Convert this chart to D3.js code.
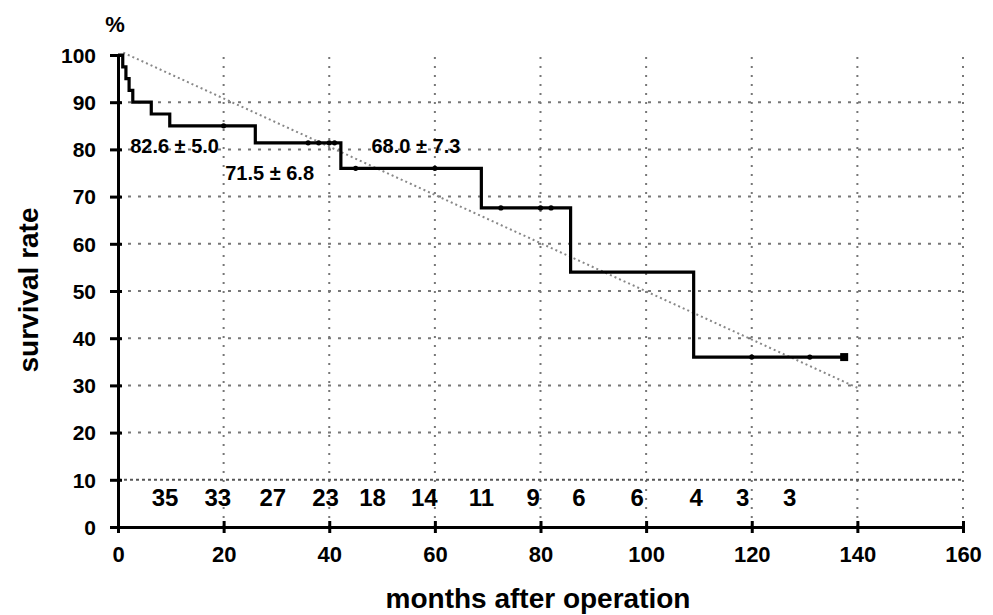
<!DOCTYPE html>
<html><head><meta charset="utf-8">
<script src="https://cdn.jsdelivr.net/npm/d3@7"></script>
<style>body{margin:0;background:#fff}svg{display:block}</style>
</head><body>
<svg id="c" width="993" height="615"></svg>
<script>
// Kaplan-Meier step data (months, survival %)
const stepTimes  = [0, 0.9, 1.5, 2.1, 2.8, 6.3, 9.8, 26, 42.2, 68.8, 85.7, 109, 137.5];
const stepValues = [100, 97.5, 95, 92.5, 90, 87.5, 85, 81.4, 76, 67.6, 54, 36, 36];
const censorTimes = [20, 36, 38, 40, 41, 45, 60, 72.5, 80, 82, 120, 131];
// dotted linear trend
const trendX = [1, 140];
const trendY = [100.5, 29.5];
// numbers at risk
const riskLabels = ["35","33","27","23","18","14","11","9","6","6","4","3","3"];
const riskMonths = [8.9, 18.9, 29.3, 39.3, 48.2, 58.0, 68.8, 78.6, 87.3, 98.3, 109.5, 118.3, 127.2];
// annotations
const annTexts  = ["82.6 ± 5.0", "71.5 ± 6.8", "68.0 ± 7.3"];
const annMonths = [2.3, 20.3, 48.0];
const annValues = [79.3, 73.6, 79.3];
// axis ticks
const xTicks = [0,20,40,60,80,100,120,140,160];
const yTicks = [0,10,20,30,40,50,60,70,80,90,100];

const svg = d3.select("#c");
const x = d3.scaleLinear().domain([0,160]).range([118,963]);
const y = d3.scaleLinear().domain([0,100]).range([527,55]);
const font = "'Liberation Sans', Arial, sans-serif";

// grid
const g = svg.append("g");
g.selectAll("line.v").data(xTicks.slice(1)).join("line")
  .attr("x1", d=>x(d)).attr("x2", d=>x(d)).attr("y1", y(0)).attr("y2", y(100))
  .attr("stroke","#777").attr("stroke-width",2).attr("stroke-dasharray","2,7");
g.selectAll("line.h").data(yTicks.filter(d=>d>0 && d<100)).join("line")
  .attr("x1", x(0)).attr("x2", x(160)).attr("y1", d=>y(d)).attr("y2", d=>y(d))
  .attr("stroke", d=> d===10 ? "#555" : "#777")
  .attr("stroke-width",2)
  .attr("stroke-dasharray", d=> d===10 ? "3,3" : "3,7");

// trend line
svg.append("line")
  .attr("x1", x(trendX[0])).attr("y1", y(trendY[0]))
  .attr("x2", x(trendX[1])).attr("y2", y(trendY[1]))
  .attr("stroke","#888").attr("stroke-width",2).attr("stroke-dasharray","2,3");

// axes
const xAxis = d3.axisBottom(x).tickValues(xTicks).tickSize(6).tickFormat(d3.format("d"));
const yAxis = d3.axisLeft(y).tickValues(yTicks).tickSize(8).tickFormat(d3.format("d"));
const ax = svg.append("g").attr("transform",`translate(0,${y(0)})`).call(xAxis);
const ay = svg.append("g").attr("transform",`translate(${x(0)},0)`).call(yAxis);
[ax, ay].forEach(a=>{
  a.select(".domain").attr("stroke","#000").attr("stroke-width",3);
  a.selectAll(".tick line").attr("stroke","#000").attr("stroke-width",3);
  a.selectAll("text").attr("font-family",font).attr("font-weight","bold").attr("fill","#000");
});
ax.selectAll(".tick line").attr("y1",-6);
ax.selectAll("text").attr("font-size",22).attr("dy",0).attr("y",35);
ay.selectAll(".tick line").attr("x2",-8).attr("x1",4);
ay.selectAll("text").attr("font-size",21).attr("x",-22).attr("dy","0.35em");

// KM step line
const pts = stepTimes.map((t,i)=>[t, stepValues[i]]);
const line = d3.line().x(d=>x(d[0])).y(d=>y(d[1])).curve(d3.curveStepAfter);
svg.append("path").datum(pts).attr("d", line)
  .attr("fill","none").attr("stroke","#000").attr("stroke-width",3.2).attr("stroke-linejoin","miter");
// censor marks
function survAt(t){ let v=100; stepTimes.forEach((s,i)=>{ if(t>=s) v=stepValues[i]; }); return v; }
svg.selectAll("circle.cen").data(censorTimes).join("circle")
  .attr("cx", d=>x(d)).attr("cy", d=>y(survAt(d))).attr("r",2.6).attr("fill","#000");
// end square
const last = stepTimes.length-1;
svg.append("rect").attr("x", x(stepTimes[last])-4).attr("y", y(stepValues[last])-4)
  .attr("width",8).attr("height",8).attr("fill","#000");

// annotations
svg.selectAll("text.ann").data(annTexts).join("text")
  .attr("x",(d,i)=>x(annMonths[i])).attr("y",(d,i)=>y(annValues[i]))
  .attr("font-family",font).attr("font-weight","bold").attr("font-size",20).text(d=>d);

// numbers at risk
svg.selectAll("text.risk").data(riskLabels).join("text")
  .attr("x",(d,i)=>x(riskMonths[i])).attr("y",506).attr("text-anchor","middle")
  .attr("font-family",font).attr("font-weight","bold").attr("font-size",24).text(d=>d);

// labels
svg.append("text").attr("x",115).attr("y",32).attr("text-anchor","middle")
  .attr("font-family",font).attr("font-weight","bold").attr("font-size",22).text("%");
svg.append("text").attr("transform","translate(38,290) rotate(-90)").attr("text-anchor","middle")
  .attr("font-family",font).attr("font-weight","bold").attr("font-size",28).text("survival rate");
svg.append("text").attr("x",538).attr("y",608).attr("text-anchor","middle")
  .attr("font-family",font).attr("font-weight","bold").attr("font-size",28).text("months after operation");
</script>
</body></html>
